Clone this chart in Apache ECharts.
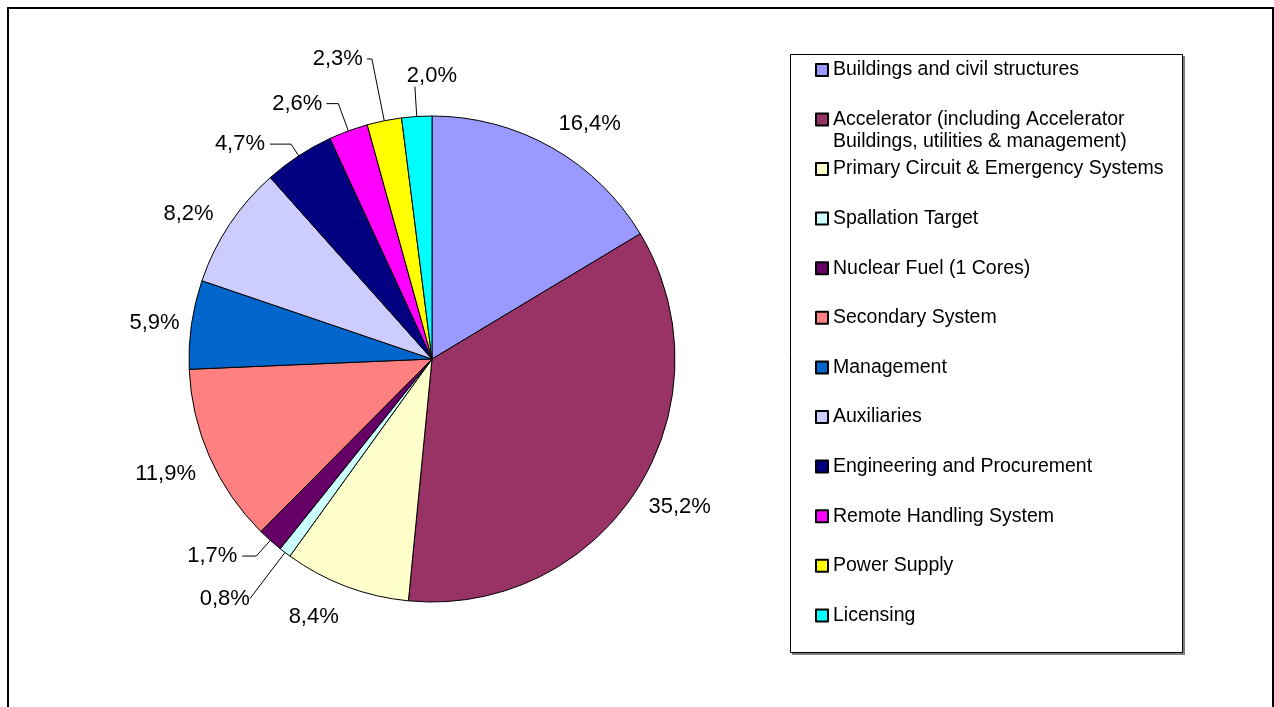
<!DOCTYPE html>
<html>
<head>
<meta charset="utf-8">
<script src="https://cdn.jsdelivr.net/npm/echarts@6/dist/echarts.min.js"></script>
<style>
html,body{margin:0;padding:0;background:#fff;}
#chart{width:1274px;height:707px;}
</style>
</head>
<body>
<div id="chart"></div>
<script>
// ---- data ----
const categories = [
  'Buildings and civil structures',
  'Accelerator (including Accelerator\nBuildings, utilities & management)',
  'Primary Circuit & Emergency Systems',
  'Spallation Target',
  'Nuclear Fuel (1 Cores)',
  'Secondary System',
  'Management',
  'Auxiliaries',
  'Engineering and Procurement',
  'Remote Handling System',
  'Power Supply',
  'Licensing'
];
const values = [16.4, 35.2, 8.4, 0.8, 1.7, 11.9, 5.9, 8.2, 4.7, 2.6, 2.3, 2.0];
const colors = ['#9999FF', '#993366', '#FFFFCC', '#CCFFFF', '#660066', '#FF8080',
                '#0066CC', '#CCCCFF', '#000080', '#FF00FF', '#FFFF00', '#00FFFF'];

// ---- label placement styling (not data) ----
const labelCfg = [
  {len: 14, len2: 0,  line: false, v: 'bottom', dist: 0},
  {len: 13, len2: 0,  line: false, v: 'top',    dist: 0},
  {len: 21, len2: 0,  line: false, v: 'top',    dist: 0},
  {len: 58, len2: 0,  line: true,  v: 'middle', dist: 0},
  {len: 21, len2: 14, line: true,  v: 'middle', dist: 5},
  {len: 15, len2: 0,  line: false, v: 'top',    dist: 0},
  {len: 12, len2: 0,  line: false, v: 'middle', dist: 0},
  {len: 19, len2: 0,  line: false, v: 'middle', dist: 0},
  {len: 14, len2: 21, line: true,  v: 'middle', dist: 5},
  {len: 29, len2: 12, line: true,  v: 'middle', dist: 4},
  {len: 63, len2: 5,  line: true,  v: 'middle', dist: 4},
  {len: 30, len2: 0,  line: true,  v: 'bottom', dist: 0, a: 'center', dx: 17}
];

const FONT = 'Liberation Sans, Arial, sans-serif';

const pieData = categories.map((name, i) => ({
  name: name,
  value: values[i],
  itemStyle: {color: colors[i]},
  label: {distanceToLabelLine: labelCfg[i].dist},
  labelLine: {show: labelCfg[i].line, length: labelCfg[i].len, length2: labelCfg[i].len2}
}));

const legendText = {
  fontFamily: FONT,
  fontSize: 19.5,
  color: '#000',
  lineHeight: 22,
  height: 22,
  rich: {
    t: {fontFamily: FONT, fontSize: 19.5, lineHeight: 22, height: 22, color: '#000'}
  }
};
const legendCommon = {
  orient: 'vertical',
  left: 815,
  align: 'left',
  padding: 0,
  itemGap: 27.6,
  itemWidth: 12,
  itemHeight: 12,
  icon: 'rect',
  selectedMode: false,
  z: 5,
  formatter: function (name) {
    return name.indexOf('\n') < 0 ? name : name.split('\n').map(s => '{t|' + s + '}').join('\n');
  },
  textStyle: legendText
};

const chart = echarts.init(document.getElementById('chart'), null, {renderer: 'canvas'});
chart.setOption({
  animation: false,
  backgroundColor: '#fff',
  graphic: [
    {
      type: 'rect', silent: true, z: 0,
      shape: {x: 8, y: 8, width: 1265, height: 720},
      style: {fill: null, stroke: '#000', lineWidth: 2}
    },
    {
      type: 'rect', silent: true, z: 0,
      shape: {x: 792, y: 56, width: 393, height: 599},
      style: {fill: '#808080'}
    },
    {
      type: 'rect', silent: true, z: 1,
      shape: {x: 790.5, y: 54.5, width: 392, height: 598},
      style: {fill: '#fff', stroke: '#000', lineWidth: 1}
    }
  ],
  legend: [
    Object.assign({}, legendCommon, {top: 59, data: categories.slice(0, 2)}),
    Object.assign({}, legendCommon, {top: 158, data: categories.slice(2)})
  ],
  series: [{
    type: 'pie',
    center: [432, 359],
    radius: 243,
    startAngle: 90,
    clockwise: true,
    avoidLabelOverlap: false,
    emphasis: {disabled: true},
    itemStyle: {borderColor: '#000', borderWidth: 1},
    label: {
      show: true,
      position: 'outside',
      fontFamily: FONT,
      fontSize: 22,
      color: '#000',
      formatter: function (p) {
        return p.value.toFixed(1).replace('.', ',') + '%';
      }
    },
    labelLine: {
      smooth: false,
      lineStyle: {color: '#000', width: 1}
    },
    labelLayout: function (p) {
      const c = labelCfg[p.dataIndex];
      const o = {verticalAlign: c.v};
      if (c.a) o.align = c.a;
      if (c.dx) o.dx = c.dx;
      return o;
    },
    data: pieData
  }]
});
</script>
</body>
</html>
